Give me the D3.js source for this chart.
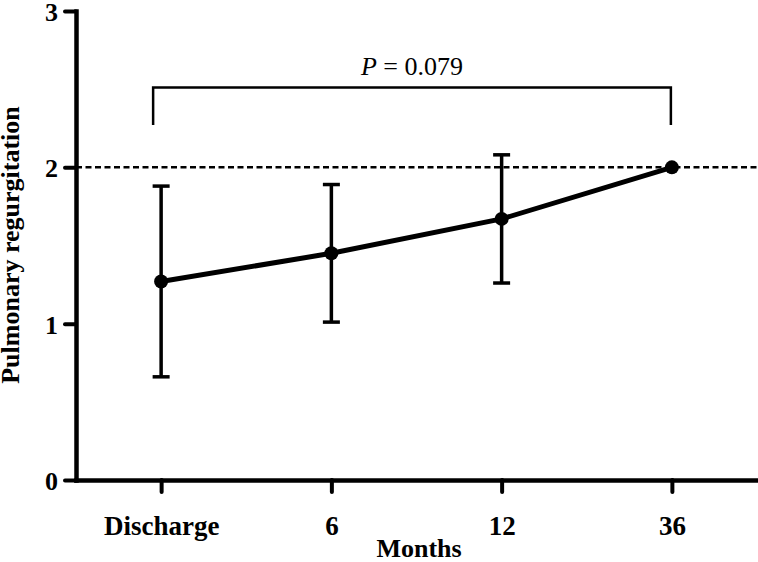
<!DOCTYPE html>
<html>
<head>
<meta charset="utf-8">
<script src="https://cdn.jsdelivr.net/npm/d3@7"></script>
<style>
  body { margin: 0; background: #fff; }
  svg { display: block; }
  text { font-family: "Liberation Serif", "Times New Roman", serif; }
</style>
</head>
<body>
<script>
// values
var categories = ['Discharge', '6', '12', '36'];
var means = [1.27, 1.45, 1.67, 2.0];
var upper = [1.88, 1.89, 2.08, 2.0];
var lower = [0.66, 1.01, 1.26, 2.0];
var yTicks = [0, 1, 2, 3];
var refLevel = 2;
var bracketTop = 2.51, bracketLeg = 2.27;
var pLabel = '0.079';

var svg = d3.select('body').append('svg')
    .attr('width', 758)
    .attr('height', 562);

var x = d3.scalePoint()
    .domain(categories)
    .range([76, 757])
    .padding(0.5);

var y = d3.scaleLinear()
    .domain([0, 3])
    .range([480, 11]);

// dashed reference line
svg.append('line')
    .attr('x1', 76)
    .attr('x2', 758)
    .attr('y1', y(refLevel))
    .attr('y2', y(refLevel))
    .attr('stroke', '#000')
    .attr('stroke-width', 2.5)
    .attr('stroke-dasharray', '6,3.5');

// axes
var yAxis = svg.append('g')
    .attr('transform', 'translate(76,0)')
    .call(d3.axisLeft(y).tickValues(yTicks).tickFormat(d3.format('d')).tickSize(11).tickSizeOuter(0).tickPadding(7));

var xAxis = svg.append('g')
    .attr('transform', 'translate(0,480)')
    .call(d3.axisBottom(x).tickSize(12).tickSizeOuter(0).tickPadding(24));

[yAxis, xAxis].forEach(function (g) {
    g.select('.domain')
        .attr('stroke-width', 4.5)
        .attr('stroke-linecap', 'square');
    g.selectAll('.tick line')
        .attr('stroke-width', 4)
        .attr('stroke-linecap', 'round');
    g.selectAll('.tick text')
        .attr('font-family', '"Liberation Serif", serif')
        .attr('font-weight', 'bold')
        .attr('font-size', 26)
        .attr('fill', '#000');
});
yAxis.selectAll('.tick text').attr('dy', '0.36em');
xAxis.selectAll('.tick text').attr('font-size', 27);

// error bars
var bars = svg.append('g');
categories.forEach(function (c, i) {
    if (upper[i] === lower[i]) return;
    var cx = x(c);
    bars.append('line')
        .attr('x1', cx).attr('x2', cx)
        .attr('y1', y(upper[i])).attr('y2', y(lower[i]))
        .attr('stroke', '#000').attr('stroke-width', 3.5);
    [upper[i], lower[i]].forEach(function (v) {
        bars.append('line')
            .attr('x1', cx - 8.5).attr('x2', cx + 8.5)
            .attr('y1', y(v)).attr('y2', y(v))
            .attr('stroke', '#000').attr('stroke-width', 3.5);
    });
});

// mean line
var line = d3.line()
    .x(function (d, i) { return x(categories[i]); })
    .y(function (d) { return y(d); });

svg.append('path')
    .datum(means)
    .attr('d', line)
    .attr('fill', 'none')
    .attr('stroke', '#000')
    .attr('stroke-width', 5);

svg.selectAll('circle.pt')
    .data(means)
    .enter().append('circle')
    .attr('class', 'pt')
    .attr('cx', function (d, i) { return x(categories[i]); })
    .attr('cy', function (d) { return y(d); })
    .attr('r', 7)
    .attr('fill', '#000');

// significance bracket
var bx1 = x(categories[0]) - 8, bx2 = x(categories[3]) - 1;
svg.append('path')
    .attr('d', 'M' + bx1 + ',' + y(bracketLeg) + 'V' + y(bracketTop) + 'H' + bx2 + 'V' + y(bracketLeg))
    .attr('fill', 'none')
    .attr('stroke', '#000')
    .attr('stroke-width', 2.5);

var pt = svg.append('text')
    .attr('x', (bx1 + bx2) / 2)
    .attr('y', 75)
    .attr('text-anchor', 'middle')
    .attr('font-size', 26);
pt.append('tspan').attr('font-style', 'italic').text('P');
pt.append('tspan').text(' = ' + pLabel);

// axis titles
svg.append('text')
    .attr('x', 419)
    .attr('y', 557)
    .attr('text-anchor', 'middle')
    .attr('font-size', 26)
    .attr('font-weight', 'bold')
    .text('Months');

svg.append('text')
    .attr('transform', 'translate(19,245) rotate(-90)')
    .attr('text-anchor', 'middle')
    .attr('font-size', 26)
    .attr('font-weight', 'bold')
    .text('Pulmonary regurgitation');
</script>
</body>
</html>
